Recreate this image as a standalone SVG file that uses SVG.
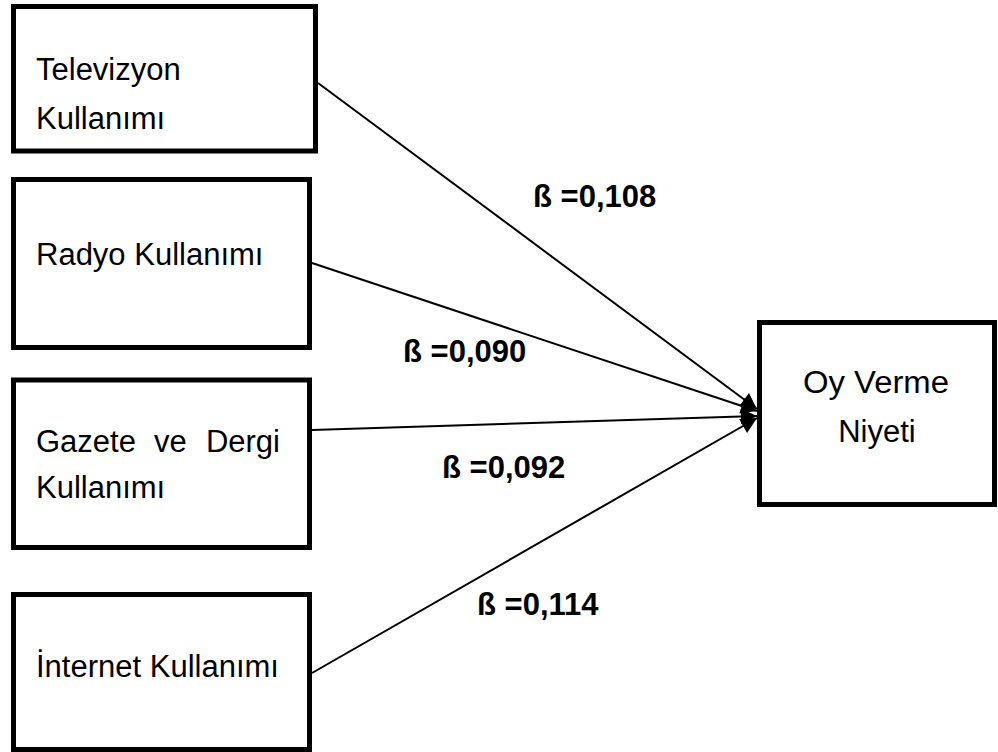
<svg xmlns="http://www.w3.org/2000/svg" width="998" height="752" viewBox="0 0 998 752">
<defs>
<style>
.box{fill:#fff;stroke:#000;stroke-width:5}
.t{font-family:"Liberation Sans",Arial,sans-serif;font-size:31px;fill:#000}
.b{font-family:"Liberation Sans",Arial,sans-serif;font-size:31px;font-weight:bold;fill:#000}
.c{stroke:#000;stroke-width:2;fill:none;marker-end:url(#ah)}
</style>
<marker id="ah" viewBox="0 0 10 10" refX="10" refY="5" markerWidth="9" markerHeight="8" markerUnits="strokeWidth" orient="auto">
<path d="M0,0 L10,5 L0,10 Z" fill="#000"/>
</marker>
</defs>
<rect width="998" height="752" fill="#fff"/>
<g id="connectors">
<line class="c" x1="318" y1="83" x2="757" y2="409"/>
<line class="c" x1="312" y1="263" x2="757" y2="411"/>
<line class="c" x1="312" y1="430" x2="757" y2="416"/>
<line class="c" x1="312" y1="673" x2="757" y2="418"/>
</g>
<g id="tv">
<rect class="box" x="13.5" y="6.5" width="302" height="144.5"/>
<text class="t" x="36" y="80">Televizyon</text>
<text class="t" x="36" y="129">Kullanımı</text>
</g>
<g id="radyo">
<rect class="box" x="13.5" y="179.5" width="296" height="168"/>
<text class="t" x="36" y="265">Radyo Kullanımı</text>
</g>
<g id="gazete">
<rect class="box" x="13.5" y="380" width="296" height="167.5"/>
<text class="t" x="36" y="452">Gazete</text>
<text class="t" x="154" y="452">ve</text>
<text class="t" x="280" y="452" text-anchor="end">Dergi</text>
<text class="t" x="36" y="498">Kullanımı</text>
</g>
<g id="internet">
<rect class="box" x="13.5" y="594.5" width="296" height="155"/>
<text class="t" x="36" y="677">İnternet Kullanımı</text>
</g>
<g id="oy">
<rect class="box" x="759.5" y="322.5" width="235" height="182"/>
<text class="t" x="803" y="393" textLength="146" lengthAdjust="spacingAndGlyphs">Oy Verme</text>
<text class="t" x="877" y="442" text-anchor="middle">Niyeti</text>
</g>
<g id="labels">
<text class="b" x="533" y="207">ß =0,108</text>
<text class="b" x="403" y="362">ß =0,090</text>
<text class="b" x="442" y="478">ß =0,092</text>
<text class="b" x="477" y="615">ß =0,114</text>
</g>
</svg>
